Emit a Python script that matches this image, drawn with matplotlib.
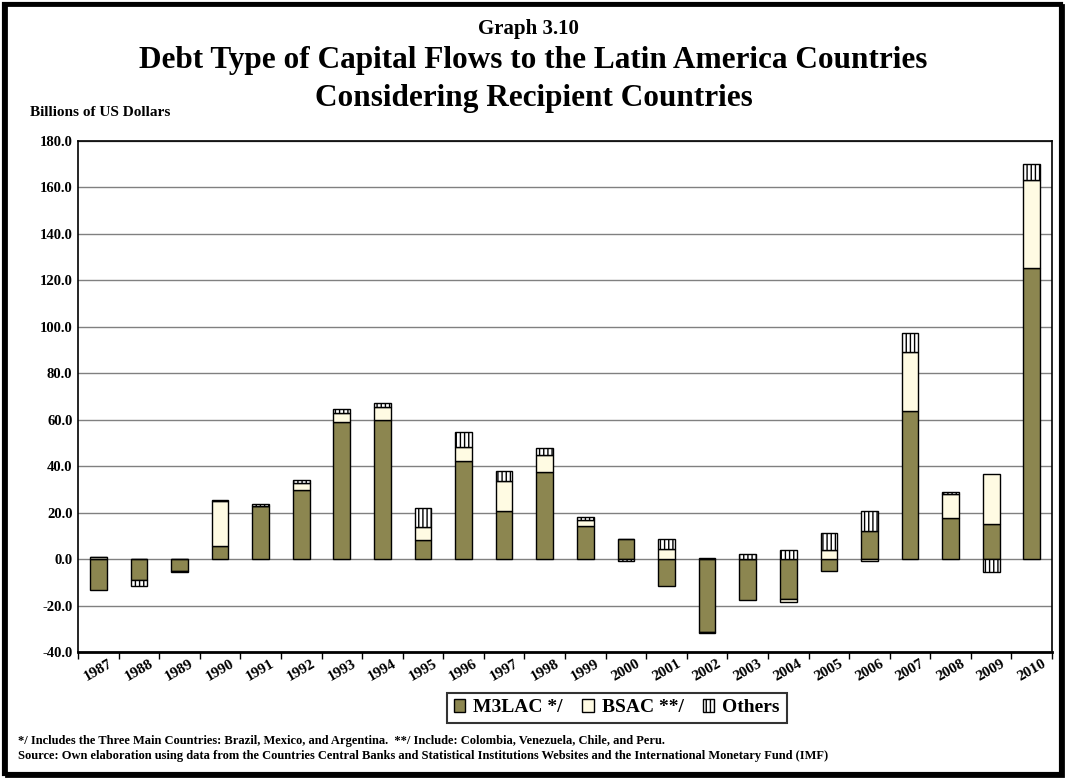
import numpy as np
import matplotlib.pyplot as plt
from matplotlib.patches import Rectangle
from matplotlib.transforms import ScaledTranslation

years = [str(y) for y in range(1987, 2011)]

# billions of US dollars, stacked by recipient group
m3lac = [-13.3, -9.0, -5.0, 5.8, 22.8, 29.7, 58.8, 59.8, 8.2, 42.3, 20.7, 37.3,
         14.3, 8.5, -11.5, -31.5, -17.8, -17.0, -5.0, 12.2, 63.7, 17.6, 15.1, 125.1]
bsac = [1.0, 0.0, 0.0, 19.4, 0.0, 3.1, 4.2, 5.5, 5.4, 6.0, 13.0, 7.3,
        2.5, 0.0, 4.2, 0.6, 0.0, -1.3, 3.9, -0.7, 25.3, 10.3, 21.4, 38.3]
others = [0.0, -2.6, -0.4, 0.3, 0.8, 1.2, 1.4, 2.0, 8.2, 6.5, 4.3, 3.3,
          1.1, -0.8, 4.4, -0.5, 2.2, 3.8, 7.4, 8.5, 8.2, 1.1, -5.5, 6.6]

series = [("M3LAC */", m3lac, dict(facecolor="#8c8650")),
          ("BSAC **/", bsac, dict(facecolor="#fffbe3")),
          ("Others", others, dict(facecolor="white", hatch="||||"))]

plt.rcParams["font.family"] = ["Liberation Serif", "DejaVu Serif"]
plt.rcParams["font.weight"] = "bold"
plt.rcParams["hatch.color"] = "#444444"
plt.rcParams["hatch.linewidth"] = 1.0

fig = plt.figure(figsize=(10.67, 7.78), dpi=100)
ax = fig.add_axes([0.0731, 0.162, 0.9129, 0.6568])

x = np.arange(len(years))
pos_base = np.zeros(len(years))
neg_base = np.zeros(len(years))
handles = []
for name, vals, style in series:
    v = np.array(vals)
    base = np.where(v >= 0, pos_base, neg_base)
    h = ax.bar(x, v, width=0.41, bottom=base, edgecolor="black",
               linewidth=1.0, label=name, zorder=3, **style)
    handles.append(h)
    pos_base += np.where(v >= 0, v, 0)
    neg_base += np.where(v < 0, v, 0)

ax.set_xlim(-0.5, len(years) - 0.5)
ax.set_ylim(-40, 180)
ax.set_yticks(np.arange(-40, 181, 20))
ax.set_yticklabels([f"{t:.1f}" for t in np.arange(-40, 181, 20)], fontsize=10.5)
ax.yaxis.grid(True, color="#808080", linewidth=1.0, zorder=0)
ax.tick_params(axis="y", length=0, pad=4)

ax.set_xticks(x)
ax.set_xticklabels(years, rotation=30, fontsize=11, ha="center")
shift = ScaledTranslation(-6 / 100, 0, fig.dpi_scale_trans)
for lab in ax.get_xticklabels():
    lab.set_transform(lab.get_transform() + shift)
ax.set_xticks(np.arange(-0.5, len(years), 1), minor=True)
ax.tick_params(axis="x", which="major", length=0, pad=4)
ax.tick_params(axis="x", which="minor", length=5, width=1)

for s in ax.spines.values():
    s.set_color("black")
    s.set_linewidth(1.2)
ax.spines["bottom"].set_linewidth(2)

fig.text(0.495, 0.963, "Graph 3.10", ha="center", va="center", fontsize=15)
fig.text(0.5, 0.922, "Debt Type of Capital Flows to the Latin America Countries",
         ha="center", va="center", fontsize=22.5)
fig.text(0.5, 0.873, "Considering Recipient Countries",
         ha="center", va="center", fontsize=22.5)
fig.text(0.028, 0.856, "Billions of US Dollars", ha="left", va="center", fontsize=11)

leg = fig.legend(handles=handles, loc="center", bbox_to_anchor=(0.578, 0.09),
                 ncol=3, fontsize=14, frameon=True, fancybox=False,
                 handlelength=0.6, handleheight=0.6, handletextpad=0.4,
                 columnspacing=1.0, borderpad=0.35)
leg.get_frame().set_edgecolor("black")
leg.get_frame().set_linewidth(1.5)

fig.text(0.017, 0.047, "*/ Includes the Three Main Countries: Brazil, Mexico, and Argentina.  "
         "**/ Include: Colombia, Venezuela, Chile, and Peru.", fontsize=9, va="center")
fig.text(0.017, 0.028, "Source: Own elaboration using data from the Countries Central Banks "
         "and Statistical Institutions Websites and the International Monetary Fund (IMF)",
         fontsize=9, va="center")

# page frame with a slightly heavier lower-right edge
fig.patches.append(Rectangle((0.004, 0.005), 0.99, 0.99, transform=fig.transFigure,
                             fill=False, edgecolor="black", linewidth=3, zorder=10))
fig.patches.append(Rectangle((0.006, 0.003), 0.99, 0.99, transform=fig.transFigure,
                             fill=False, edgecolor="black", linewidth=2, zorder=10))

fig.savefig("out.png", dpi=100)
